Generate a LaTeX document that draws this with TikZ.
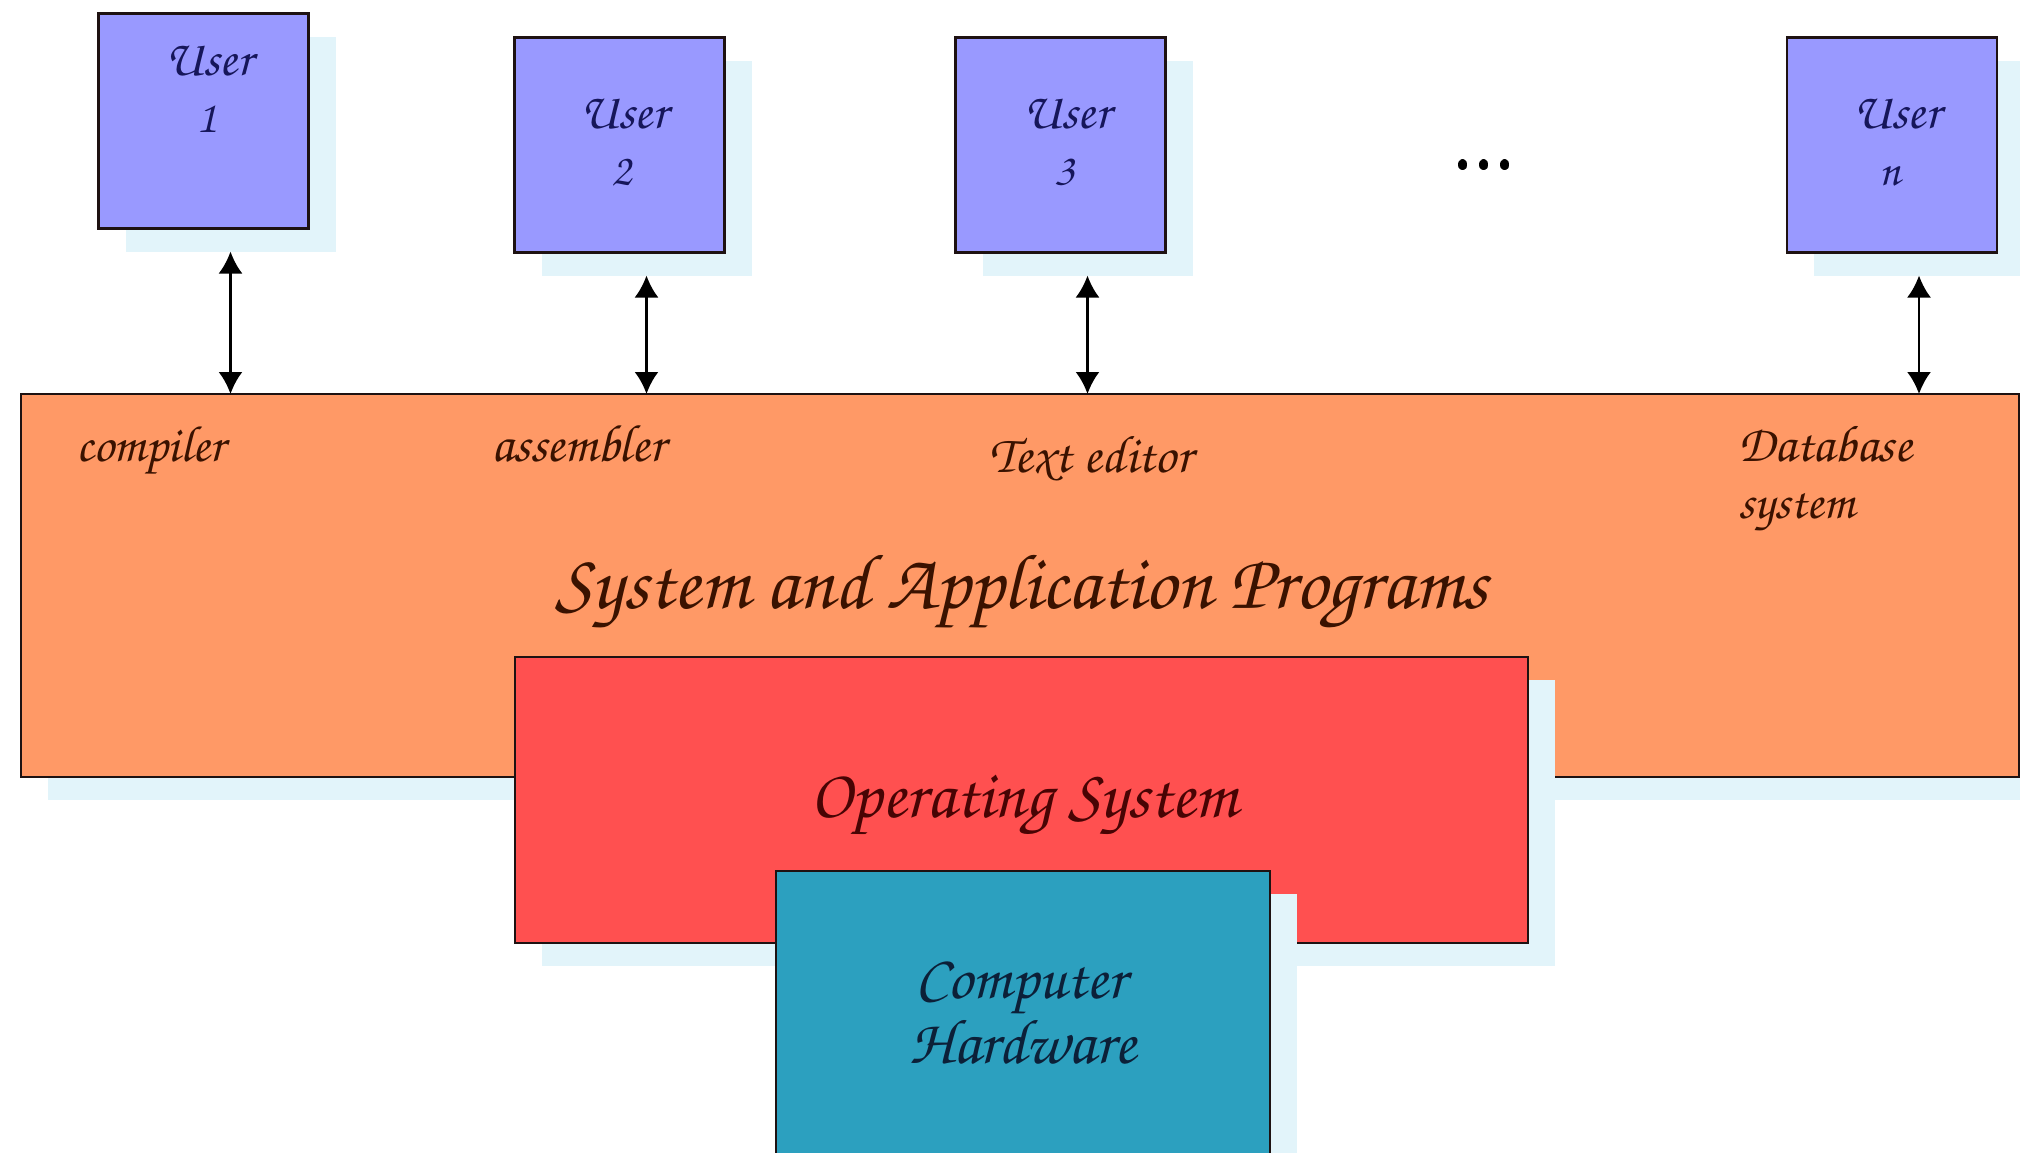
\documentclass[tikz,border=0pt]{standalone}
\usepackage[T1]{fontenc}
\usetikzlibrary{arrows.meta,calc}
\definecolor{userfill}{HTML}{9999FF}
\definecolor{appfill}{HTML}{FF9966}
\definecolor{osfill}{HTML}{FF5050}
\definecolor{hwfill}{HTML}{2CA0BF}
\definecolor{shadowc}{HTML}{E2F4FA}
\definecolor{edgec}{HTML}{1E1212}
\definecolor{usertxt}{HTML}{16165A}
\definecolor{apptxt}{HTML}{3A1200}
\definecolor{ostxt}{HTML}{480404}
\definecolor{hwtxt}{HTML}{0C2038}
\newcommand{\chan}{\fontfamily{pzc}\selectfont}
\newcommand{\fitw}[2]{\resizebox{#1}{!}{\chan #2}}
\begin{document}
\begin{tikzpicture}[x=1pt,y=-1pt,
  box/.style={draw=edgec,line width=2.4pt,inner sep=0pt,outer sep=0pt},
  shadebox/.style={fill=shadowc,draw=none,inner sep=0pt,outer sep=0pt},
  txt/.style={inner sep=0pt,outer sep=0pt,anchor=base},
  ltxt/.style={inner sep=0pt,outer sep=0pt,anchor=base west,text=apptxt},
  utxt/.style={txt,text=usertxt,font=\chan\fontsize{46}{46}\selectfont},
  userbox/.style={box,fill=userfill,minimum width=210pt,minimum height=215pt},
  usershadow/.style={shadebox,minimum width=210pt,minimum height=215pt},
  link/.style={line width=2.6pt,{Latex[length=22pt,width=24pt]}-{Latex[length=22pt,width=24pt]}}]
\clip (0,0) rectangle (2020,1152);
\fill[white] (0,0) rectangle (2020,1152);
% users
\node[usershadow] (s1) at (230.5,144) {};
\node[userbox] (u1) at (203.5,121) {};
\node[usershadow] (s2) at (646.5,168) {};
\node[userbox] (u2) at (619.5,145) {};
\node[usershadow] (s3) at (1087.5,168) {};
\node[userbox] (u3) at (1060.5,145) {};
\node[usershadow] (sn) at (1919,168) {};
\node[userbox] (un) at (1892,145) {};
\node[utxt] (t1a) at (209,75) {\fitw{87pt}{User}};
\node[utxt] (t1b) at (207,132) {1};
\node[utxt] (t2a) at (624,128.5) {\fitw{87pt}{User}};
\node[utxt] (t2b) at (622,185.5) {2};
\node[utxt] (t3a) at (1067,128.5) {\fitw{87pt}{User}};
\node[utxt] (t3b) at (1065,185.5) {3};
\node[utxt] (tna) at (1897,128.5) {\fitw{87pt}{User}};
\node[utxt] (tnb) at (1890,185.5) {n};
\node[inner sep=0pt] (dots) at (1484,166) {\resizebox{56pt}{!}{\textbullet\kern.3em\textbullet\kern.3em\textbullet}};
% application layer
\node[shadebox,minimum width=1998pt,minimum height=383pt] (sapps) at (1047,608.5) {};
\node[box,fill=appfill,minimum width=1998pt,minimum height=383pt] (apps) at (1020,585.5) {};
\node[ltxt] (l1) at (76,461) {\fitw{149pt}{compiler}};
\node[ltxt] (l2) at (491,461) {\fitw{174pt}{assembler}};
\node[ltxt] (l3) at (989,472) {\fitw{203pt}{Text editor}};
\node[ltxt] (l4) at (1738,461) {\fitw{174pt}{Database}};
\node[ltxt] (l5) at (1738,518) {\fitw{116pt}{system}};
\node[txt,text=apptxt] (appt) at (1022,608) {\fitw{932pt}{System and Application Programs}};
% arrows
\draw[link] (s1.south) -- (s1.south |- apps.north);
\draw[link] (s2.south) -- (s2.south |- apps.north);
\draw[link] (s3.south) -- (s3.south |- apps.north);
\draw[link] (sn.south) -- (sn.south |- apps.north);
% operating system
\node[shadebox,minimum width=1013pt,minimum height=286pt] (sos) at (1048.5,823) {};
\node[box,fill=osfill,minimum width=1013pt,minimum height=286pt] (os) at (1021.5,800) {};
\node[txt,text=ostxt] (ost) at (1024,817) {\fitw{427pt}{Operating System}};
% hardware
\node[shadebox,minimum width=494pt,minimum height=299pt] (shw) at (1050,1043.5) {};
\node[box,fill=hwfill,minimum width=494pt,minimum height=299pt] (hw) at (1023,1020.5) {};
\node[txt,text=hwtxt] (hwa) at (1021,998) {\fitw{211pt}{Computer}};
\node[txt,text=hwtxt] (hwb) at (1023,1063) {\fitw{226pt}{Hardware}};
\end{tikzpicture}
\end{document}
